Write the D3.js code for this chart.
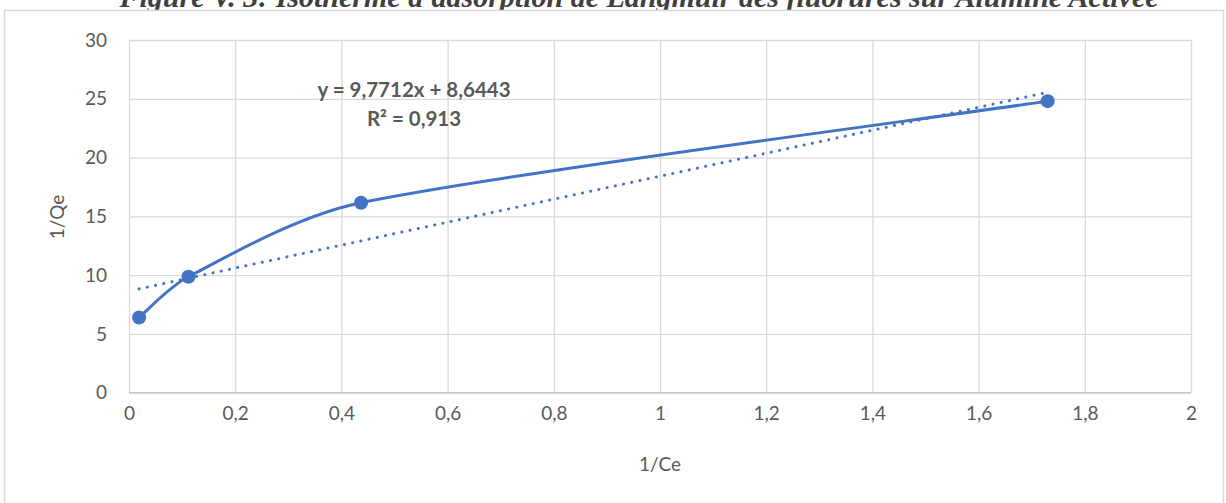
<!DOCTYPE html>
<html>
<head>
<meta charset="utf-8">
<script src="https://cdn.jsdelivr.net/npm/d3@7"></script>
<style>
  html, body { margin: 0; padding: 0; background: #fff; }
  svg { display: block; }
</style>
</head>
<body>
<svg id="chart" width="1226" height="503"></svg>
<script>
// ---- Data ----
const titleText = "Figure V. 3: Isotherme d'adsorption de Langmuir des fluorures sur Alumine Activée";
const xValues = [0.019, 0.112, 0.437, 1.730];   // 1/Ce
const yValues = [6.4, 9.86, 16.16, 24.8];       // 1/Qe
const xTicks = [0, 0.2, 0.4, 0.6, 0.8, 1, 1.2, 1.4, 1.6, 1.8, 2];
const yTicks = [0, 5, 10, 15, 20, 25, 30];
const trendSlope = 9.7712;
const trendIntercept = 8.6443;
const equationLines = ["y = 9,7712x + 8,6443", "R² = 0,913"];
const xTitle = "1/Ce";
const yTitle = "1/Qe";

// ---- Layout ----
const svg = d3.select("#chart");
const plot = { left: 129, right: 1191, top: 40, bottom: 392.7 };
const blue = "#4472C4";
const textGray = "#595959";
const gridGray = "#d9d9d9";
const fnt = "Lato, 'Open Sans', sans-serif";

const x = d3.scaleLinear().domain([0, 2]).range([plot.left, plot.right]);
const y = d3.scaleLinear().domain([0, 30]).range([plot.bottom, plot.top]);

// Title (cut at top)
svg.append("text")
  .attr("x", 639).attr("y", 7)
  .attr("text-anchor", "middle")
  .attr("font-family", "'Liberation Serif', 'DejaVu Serif', serif")
  .attr("font-weight", "bold").attr("font-style", "italic")
  .attr("font-size", 30)
  .attr("fill", "#404040")
  .text(titleText);

// Outer frame
svg.append("rect")
  .attr("x", 4.5).attr("y", 10.5)
  .attr("width", 1219).attr("height", 510)
  .attr("fill", "#fff").attr("stroke", gridGray).attr("stroke-width", 1.5);

// Gridlines
const gx = svg.append("g").attr("transform", `translate(0,${plot.bottom})`)
  .call(d3.axisBottom(x).tickValues(xTicks).tickSize(-(plot.bottom - plot.top))
    .tickFormat(d => String(d).replace(".", ",")).tickPadding(14));
gx.select(".domain").remove();
gx.selectAll(".tick line").attr("stroke", gridGray).attr("stroke-width", 1.3);
gx.selectAll(".tick text").attr("fill", textGray).attr("font-size", 19).attr("font-family", fnt);

const gy = svg.append("g").attr("transform", `translate(${plot.left},0)`)
  .call(d3.axisLeft(y).tickValues(yTicks).tickSize(-(plot.right - plot.left))
    .tickFormat(d => String(d)).tickPadding(22));
gy.select(".domain").remove();
gy.selectAll(".tick line").attr("stroke", gridGray).attr("stroke-width", 1.3);
gy.selectAll(".tick text").attr("fill", textGray).attr("font-size", 19).attr("font-family", fnt);

// Bottom axis line (slightly darker)
svg.append("line")
  .attr("x1", plot.left).attr("x2", plot.right)
  .attr("y1", plot.bottom).attr("y2", plot.bottom)
  .attr("stroke", "#c8c8c8").attr("stroke-width", 1.5);

// Axis titles
svg.append("text")
  .attr("x", 660).attr("y", 471)
  .attr("text-anchor", "middle")
  .attr("font-family", fnt).attr("font-size", 19).attr("fill", textGray)
  .text(xTitle);
svg.append("text")
  .attr("transform", `translate(64,217) rotate(-90)`)
  .attr("text-anchor", "middle")
  .attr("font-family", fnt).attr("font-size", 19).attr("fill", textGray)
  .text(yTitle);

const pts = xValues.map((v, i) => [v, yValues[i]]);

// Trendline (dotted)
const xMin = d3.min(xValues), xMax = d3.max(xValues);
svg.append("line")
  .attr("x1", x(xMin)).attr("y1", y(trendSlope * xMin + trendIntercept))
  .attr("x2", x(xMax)).attr("y2", y(trendSlope * xMax + trendIntercept))
  .attr("stroke", blue).attr("stroke-width", 3)
  .attr("stroke-linecap", "round").attr("stroke-dasharray", "0.1 8.3");

// Smoothed series line (Excel-like Bezier smoothing, control arms clamped to segment length)
function smoothPath(data) {
  const P = data.map(d => [x(d[0]), y(d[1])]);
  const n = P.length;
  const tang = P.map((p, i) => {
    const a = P[Math.max(0, i - 1)], b = P[Math.min(n - 1, i + 1)];
    return [(b[0] - a[0]) / 6, (b[1] - a[1]) / 6];
  });
  const clampArm = (t, segLen) => {
    const L = Math.hypot(t[0], t[1]);
    const maxL = segLen * 0.35;
    const s = L > maxL ? maxL / L : 1;
    return [t[0] * s, t[1] * s];
  };
  const p = d3.path();
  p.moveTo(P[0][0], P[0][1]);
  for (let i = 0; i < n - 1; i++) {
    const segLen = Math.hypot(P[i + 1][0] - P[i][0], P[i + 1][1] - P[i][1]);
    const t0 = clampArm(tang[i], segLen);
    const t1 = clampArm(tang[i + 1], segLen);
    p.bezierCurveTo(P[i][0] + t0[0], P[i][1] + t0[1],
                    P[i + 1][0] - t1[0], P[i + 1][1] - t1[1],
                    P[i + 1][0], P[i + 1][1]);
  }
  return p.toString();
}
svg.append("path")
  .attr("d", smoothPath(pts))
  .attr("fill", "none").attr("stroke", blue).attr("stroke-width", 3)
  .attr("stroke-linecap", "round");

// Markers
svg.selectAll("circle.pt").data(pts).enter().append("circle")
  .attr("class", "pt")
  .attr("cx", d => x(d[0])).attr("cy", d => y(d[1]))
  .attr("r", 7).attr("fill", blue);

// Equation label
svg.append("text")
  .attr("x", 414).attr("y", 97)
  .attr("text-anchor", "middle")
  .attr("font-family", fnt).attr("font-weight", "bold")
  .attr("font-size", 20.5).attr("fill", textGray)
  .text(equationLines[0]);
svg.append("text")
  .attr("x", 414).attr("y", 126)
  .attr("text-anchor", "middle")
  .attr("font-family", fnt).attr("font-weight", "bold")
  .attr("font-size", 20.5).attr("fill", textGray)
  .text(equationLines[1]);
</script>
</body>
</html>
